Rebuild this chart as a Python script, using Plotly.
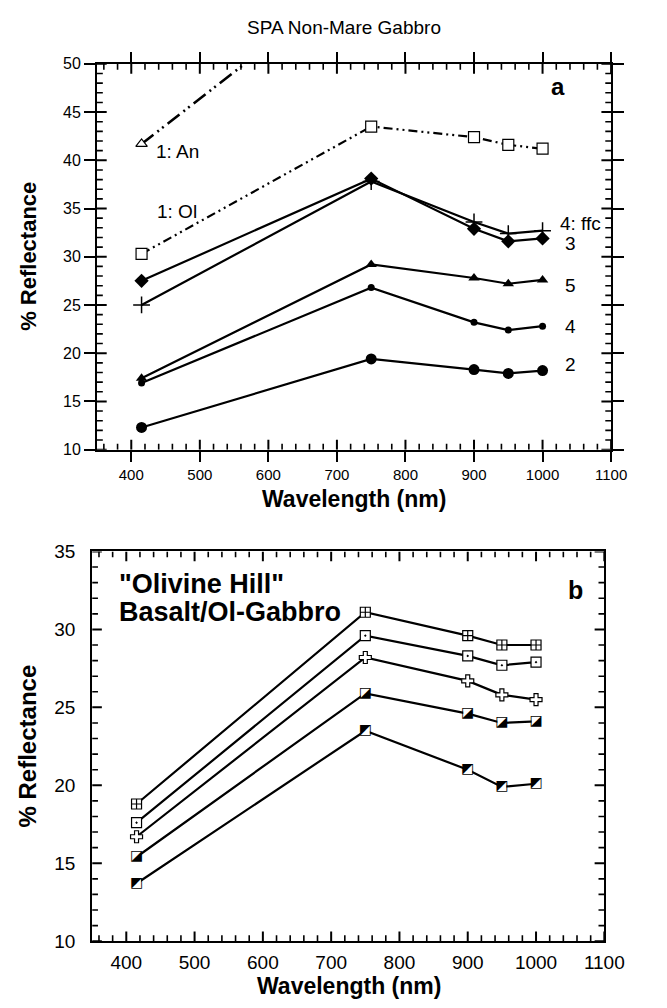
import plotly.graph_objects as go

# ---------------- data ----------------
wl_a = [415, 750, 900, 950, 1000]
an_1 = [41.7, 60.2, 58.0, 57.0, 56.5]
ol_1 = [30.3, 43.5, 42.4, 41.6, 41.2]
ffc_4 = [25.0, 37.8, 33.6, 32.4, 32.7]
a_3 = [27.5, 38.1, 32.9, 31.6, 31.9]
a_5 = [17.4, 29.2, 27.8, 27.2, 27.6]
a_4 = [16.9, 26.8, 23.2, 22.4, 22.8]
a_2 = [12.3, 19.4, 18.3, 17.9, 18.2]

wl_b = [415, 750, 900, 950, 1000]
b_1 = [18.8, 31.1, 29.6, 29.0, 29.0]
b_2 = [17.6, 29.6, 28.3, 27.7, 27.9]
b_3 = [16.7, 28.2, 26.7, 25.8, 25.5]
b_4 = [15.4, 25.9, 24.6, 24.0, 24.1]
b_5 = [13.7, 23.5, 21.0, 19.9, 20.1]

x_range = [350, 1100]
ya_range = [10, 50]
yb_range = [10, 35]
x_ticks = [400, 500, 600, 700, 800, 900, 1000, 1100]
ya_ticks = [10, 15, 20, 25, 30, 35, 40, 45, 50]
yb_ticks = [10, 15, 20, 25, 30, 35]
x_minor = [v for v in range(360, 1100, 20) if v not in x_ticks]
ya_minor = [v for v in range(11, 50) if v not in ya_ticks]
yb_minor = [v for v in range(11, 35) if v not in yb_ticks]

FONT = "Liberation Sans, Arial, sans-serif"
W, H = 667, 1008

xa_px = (100, 630)
ya_px = (55, 449)
xb_px = (95, 623)
yb_px = (553, 951)
xa_dom = [xa_px[0] / W, xa_px[1] / W]
ya_dom = [1 - ya_px[1] / H, 1 - ya_px[0] / H]
xb_dom = [xb_px[0] / W, xb_px[1] / W]
yb_dom = [1 - yb_px[1] / H, 1 - yb_px[0] / H]

fig = go.Figure()

def line_trace(x, y, xa, ya, dash="solid", width=2.2, **mk):
    return go.Scatter(x=x, y=y, xaxis=xa, yaxis=ya, mode="lines+markers",
                      line=dict(color="black", width=width, dash=dash),
                      marker=mk, showlegend=False, hoverinfo="skip", cliponaxis=True)

# inward tick marks: short segments along each frame edge, built from the tick arrays
def tick_segments(xa, ya, xr, yr, xt, yt, length_px, w_px, h_px, width):
    xpp = (xr[1] - xr[0]) / w_px
    ypp = (yr[1] - yr[0]) / h_px
    xs, ys = [], []
    for v in xt:
        xs += [v, v, None, v, v, None]
        ys += [yr[0], yr[0] + length_px * ypp, None, yr[1], yr[1] - length_px * ypp, None]
    for v in yt:
        xs += [xr[0], xr[0] + length_px * xpp, None, xr[1], xr[1] - length_px * xpp, None]
        ys += [v, v, None, v, v, None]
    return go.Scatter(x=xs, y=ys, xaxis=xa, yaxis=ya, mode="lines", connectgaps=False,
                      line=dict(color="black", width=width), showlegend=False,
                      hoverinfo="skip")

wa, ha = xa_px[1] - xa_px[0], ya_px[1] - ya_px[0]
wb, hb = xb_px[1] - xb_px[0], yb_px[1] - yb_px[0]
fig.add_trace(tick_segments("x", "y", x_range, ya_range, x_ticks, ya_ticks, 10, wa, ha, 2.0))
fig.add_trace(tick_segments("x", "y", x_range, ya_range, x_minor, ya_minor, 6, wa, ha, 1.6))
fig.add_trace(tick_segments("x2", "y2", x_range, yb_range, x_ticks, yb_ticks, 10, wb, hb, 2.0))
fig.add_trace(tick_segments("x2", "y2", x_range, yb_range, x_minor, yb_minor, 6, wb, hb, 1.6))

# panel a
fig.add_trace(line_trace(wl_a, an_1, "x", "y", dash="15px,5px,2px,4px,2px,5px", width=2.6,
                         symbol="triangle-up", size=10, color="white", line=dict(color="black", width=1.2)))
fig.add_trace(line_trace(wl_a, ol_1, "x", "y", dash="9px,4px,2px,4px,2px,4px", width=2.2,
                         symbol="square", size=11, color="white", line=dict(color="black", width=1.2)))
fig.add_trace(line_trace(wl_a, ffc_4, "x", "y", symbol="cross-thin", size=12, color="black",
                         line=dict(color="black", width=1.5)))
fig.add_trace(line_trace(wl_a, a_3, "x", "y", symbol="diamond", size=11, color="black"))
fig.add_trace(line_trace(wl_a, a_5, "x", "y", symbol="triangle-up", size=10, color="black"))
fig.add_trace(line_trace(wl_a, a_4, "x", "y", symbol="circle", size=7, color="black"))
fig.add_trace(line_trace(wl_a, a_2, "x", "y", symbol="circle", size=11, color="black"))

# panel b
fig.add_trace(line_trace(wl_b, b_1, "x2", "y2", symbol="square-cross", size=10, color="white",
                         line=dict(color="black", width=1.2)))
fig.add_trace(line_trace(wl_b, b_2, "x2", "y2", symbol="square-dot", size=10, color="white",
                         line=dict(color="black", width=1.2)))
fig.add_trace(line_trace(wl_b, b_3, "x2", "y2", symbol="cross", size=10, color="white",
                         line=dict(color="black", width=1.2)))
for vals, glyph in ((b_4, "\u25EA"), (b_5, "\u25E9")):
    fig.add_trace(go.Scatter(x=wl_b, y=vals, xaxis="x2", yaxis="y2", mode="lines+markers+text",
                             line=dict(color="black", width=2.2),
                             marker=dict(symbol="square", size=9, color="white"),
                             text=[glyph] * len(vals), textposition="middle center",
                             textfont=dict(family="DejaVu Sans", size=14, color="black"),
                             showlegend=False, hoverinfo="skip"))

base = dict(showgrid=False, zeroline=False, color="black", tickcolor="black",
            linecolor="black")

def lin(ticks):
    return dict(tickmode="linear", tick0=ticks[0], dtick=ticks[1] - ticks[0])

fig.update_layout(
    width=W, height=H, margin=dict(l=0, r=0, t=0, b=0),
    paper_bgcolor="white", plot_bgcolor="white",
    font=dict(family=FONT, color="black"),
    xaxis=dict(domain=xa_dom, anchor="y", range=x_range, **lin(x_ticks),
               ticks="outside", ticklen=10, tickwidth=2, showline=True, linewidth=2,
               mirror="ticks", tickfont=dict(size=15), **base),
    yaxis=dict(domain=ya_dom, anchor="x", range=ya_range, **lin(ya_ticks),
               ticks="outside", ticklen=11, tickwidth=2, showline=True, linewidth=2,
               mirror="ticks", tickfont=dict(size=16), **base),
    xaxis2=dict(domain=xb_dom, anchor="y2", range=x_range, **lin(x_ticks),
                ticks="", showline=True, linewidth=2, mirror=True,
                tickfont=dict(size=19), ticklabelstandoff=3, **base),
    yaxis2=dict(domain=yb_dom, anchor="x2", range=yb_range, **lin(yb_ticks),
                ticks="", showline=True, linewidth=2, mirror=True,
                tickfont=dict(size=19), ticklabelstandoff=11, **base),
)

ann = []
def pa(text, x, y, size, bold=False, angle=0, xanchor="center", yanchor="middle"):
    t = f"<b>{text}</b>" if bold else text
    ann.append(dict(text=t, x=x, y=y, xref="paper", yref="paper", showarrow=False,
                    textangle=angle, xanchor=xanchor, yanchor=yanchor,
                    font=dict(size=size, family=FONT, color="black")))

def da(text, x, y, xr, yr, size, bold=False, xanchor="center", yanchor="middle"):
    t = f"<b>{text}</b>" if bold else text
    ann.append(dict(text=t, x=x, y=y, xref=xr, yref=yr, showarrow=False,
                    xanchor=xanchor, yanchor=yanchor,
                    font=dict(size=size, family=FONT, color="black")))

pa("SPA Non-Mare Gabbro", 355 / W, 1 - 18 / H, 19)
pa("% Reflectance", 30 / W, 1 - 252 / H, 22, bold=True, angle=-90)
pa("Wavelength (nm)", 365 / W, 1 - 499 / H, 23, bold=True)
pa("% Reflectance", 28 / W, 1 - 752 / H, 24, bold=True, angle=-90)
pa("Wavelength (nm)", 360 / W, 1 - 997 / H, 23, bold=True)

da("1: An", 468, 40.9, "x", "y", 19)
da("1: Ol", 466, 34.7, "x", "y", 19)
da("4: ffc", 1056, 33.4, "x", "y", 19)
da("3", 1041, 31.4, "x", "y", 19)
da("5", 1041, 27.0, "x", "y", 19)
da("4", 1041, 22.8, "x", "y", 19)
da("2", 1041, 18.8, "x", "y", 19)
da("a", 1022, 47.7, "x", "y", 24, bold=True)

da("b", 1058, 32.5, "x2", "y2", 25, bold=True)
da("\"Olivine Hill\"", 387, 32.9, "x2", "y2", 27, bold=True, xanchor="left")
da("Basalt/Ol-Gabbro", 387, 31.1, "x2", "y2", 27, bold=True, xanchor="left")

fig.update_layout(annotations=ann)
fig.write_html("out.html")
